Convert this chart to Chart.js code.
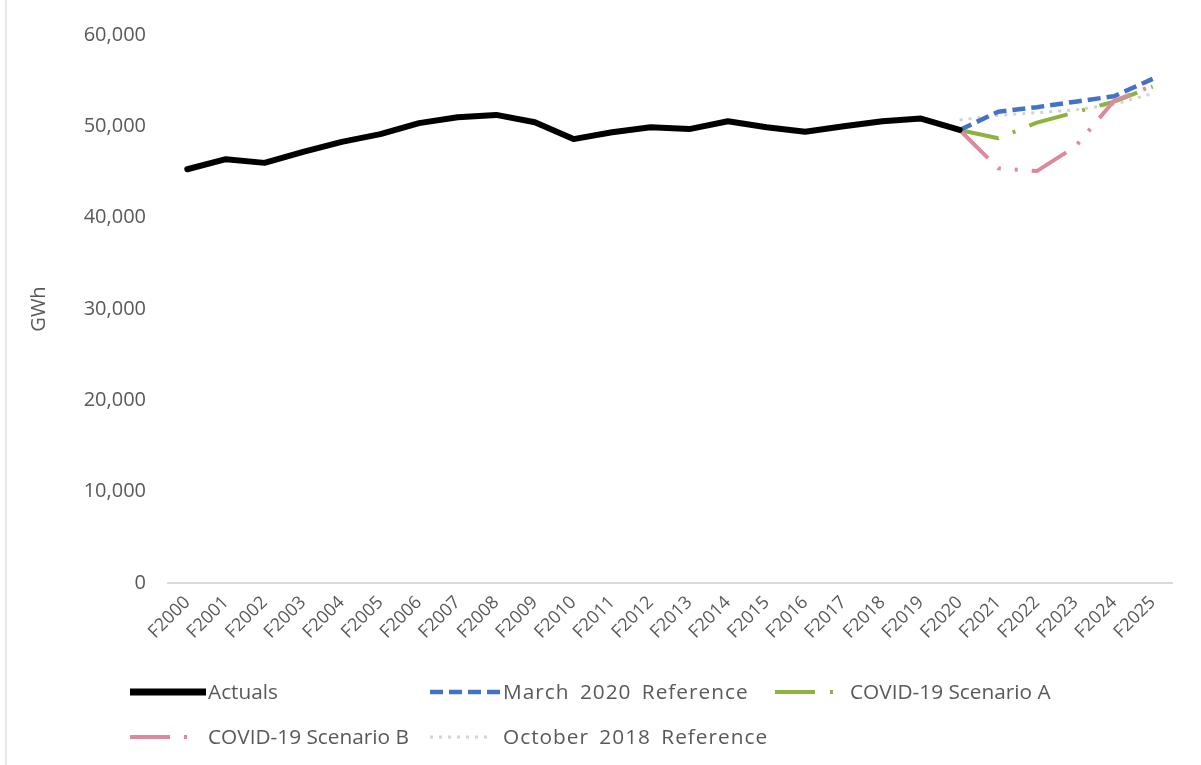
<!DOCTYPE html>
<html><head><meta charset="utf-8">
<script src="https://cdn.jsdelivr.net/npm/chart.js@4.4.0/dist/chart.umd.min.js"></script>
<style>
html,body{margin:0;padding:0;background:#fff;}
#wrap{position:relative;width:1201px;height:765px;overflow:hidden;background:#fff;}
#frame{position:absolute;left:5px;top:0;width:2px;height:765px;background:#e8e8e8;}
canvas{position:absolute;left:0;top:0;}
.leg{position:absolute;font-family:'Open Sans',sans-serif;font-size:20.8px;color:#595959;white-space:nowrap;line-height:24px;}
svg.ls{position:absolute;overflow:visible;}
</style></head><body>
<div id="wrap"><div id="frame"></div><canvas id="c" width="1201" height="765"></canvas><div id="legend"></div></div>
<script>
// ---- data ----
const categories = ['F2000','F2001','F2002','F2003','F2004','F2005','F2006','F2007','F2008','F2009','F2010','F2011','F2012','F2013','F2014','F2015','F2016','F2017','F2018','F2019','F2020','F2021','F2022','F2023','F2024','F2025'];
const actuals = [45300,46400,46000,47200,48300,49150,50350,51000,51250,50450,48600,49350,49900,49700,50550,49900,49400,50000,50550,50850,49600,null,null,null,null,null];
const march2020Ref = [null,null,null,null,null,null,null,null,null,null,null,null,null,null,null,null,null,null,null,null,49600,51600,52100,52700,53300,55200];
const covidScenarioA = [null,null,null,null,null,null,null,null,null,null,null,null,null,null,null,null,null,null,null,null,49600,48700,50400,51550,52700,54350];
const covidScenarioB = [null,null,null,null,null,null,null,null,null,null,null,null,null,null,null,null,null,null,null,null,49600,45400,45100,47800,52800,54450];
const oct2018Ref = [null,null,null,null,null,null,null,null,null,null,null,null,null,null,null,null,null,null,null,null,50700,51200,51500,51800,52400,53600];
const yTicks = [0,10000,20000,30000,40000,50000,60000];
const seriesNames = ['Actuals','March 2020 Reference','COVID-19 Scenario A','COVID-19 Scenario B','October 2018 Reference'];

// ---- styles ----
const styles = {
  'Actuals': {color:'#000000', width:6, dash:[], cap:'round'},
  'March 2020 Reference': {color:'#4472C4', width:4.5, dash:[13,6], cap:'butt'},
  'COVID-19 Scenario A': {color:'#8DB33F', width:4, dash:[40,15,3,15], cap:'butt'},
  'COVID-19 Scenario B': {color:'#DB8A9C', width:4, dash:[40,14,3,14,3,14], cap:'butt'},
  'October 2018 Reference': {color:'#D2D2D2', width:3, dash:[3,6], cap:'butt'}
};
const seriesData = {
  'Actuals': actuals,
  'March 2020 Reference': march2020Ref,
  'COVID-19 Scenario A': covidScenarioA,
  'COVID-19 Scenario B': covidScenarioB,
  'October 2018 Reference': oct2018Ref
};
const drawOrder = ['Actuals','March 2020 Reference','COVID-19 Scenario B','COVID-19 Scenario A','October 2018 Reference'];

const datasets = drawOrder.map(n => ({
  label: n,
  data: seriesData[n],
  borderColor: styles[n].color,
  backgroundColor: styles[n].color,
  borderWidth: styles[n].width,
  borderDash: styles[n].dash,
  borderCapStyle: styles[n].cap,
  borderJoinStyle: 'round',
  pointRadius: 0,
  tension: 0,
  fill: false,
  spanGaps: false
}));

new Chart(document.getElementById('c'), {
  type: 'line',
  data: {labels: categories, datasets: datasets},
  options: {
    responsive: false, animation: false, devicePixelRatio: 1,
    layout: {padding: {left: 23, right: 29, top: 35, bottom: 112}},
    plugins: {legend: {display: false}, tooltip: {enabled: false}},
    scales: {
      x: {
        offset: true,
        grid: {display: false, drawTicks: false},
        border: {display: true, color: '#d9d9d9', width: 2},
        ticks: {autoSkip: false, maxRotation: 45, minRotation: 45, padding: 9, color: '#595959', font: {family: 'Open Sans', size: 18}},
        afterFit: s => { s.height = 70; }
      },
      y: {
        min: 0, max: 60000,
        afterBuildTicks: s => { s.ticks = yTicks.map(v => ({value: v})); },
        ticks: {padding: 22, color: '#595959', font: {family: 'Open Sans', size: 20}, callback: v => Number(v).toLocaleString('en-US')},
        grid: {display: false, drawTicks: false},
        border: {display: false},
        title: {display: true, text: 'GWh', color: '#595959', font: {family: 'Open Sans', size: 20}, padding: {top: 4, bottom: 4}},
        afterFit: s => { s.width = 145; }
      }
    }
  }
});

// ---- HTML legend ----
const legendPos = {
  'Actuals': {x:130, len:76, tx:208, y:692, ls:0, ws:0},
  'March 2020 Reference': {x:430, len:70, tx:503, y:692, ls:1, ws:4},
  'COVID-19 Scenario A': {x:775, len:60, tx:850, y:692, ls:0, ws:0},
  'COVID-19 Scenario B': {x:130, len:57, tx:208, y:737, ls:0, ws:0},
  'October 2018 Reference': {x:430, len:62, tx:503, y:737, ls:1, ws:4}
};
const leg = document.getElementById('legend');
const NS = 'http://www.w3.org/2000/svg';
seriesNames.forEach(n => {
  const p = legendPos[n], st = styles[n];
  const svg = document.createElementNS(NS, 'svg');
  svg.setAttribute('class', 'ls');
  svg.setAttribute('width', p.len); svg.setAttribute('height', 10);
  svg.style.left = p.x + 'px'; svg.style.top = (p.y - 5) + 'px';
  const ln = document.createElementNS(NS, 'line');
  ln.setAttribute('x1', 0); ln.setAttribute('y1', 5); ln.setAttribute('x2', p.len); ln.setAttribute('y2', 5);
  ln.setAttribute('stroke', st.color);
  ln.setAttribute('stroke-width', n === 'Actuals' ? 7 : st.width);
  if (st.dash.length) ln.setAttribute('stroke-dasharray', st.dash.join(' '));
  svg.appendChild(ln);
  leg.appendChild(svg);
  const t = document.createElement('div');
  t.className = 'leg';
  t.textContent = n;
  t.style.left = p.tx + 'px'; t.style.top = (p.y - 13) + 'px';
  t.style.letterSpacing = p.ls + 'px';
  t.style.wordSpacing = p.ws + 'px';
  leg.appendChild(t);
});
</script>
</body></html>
